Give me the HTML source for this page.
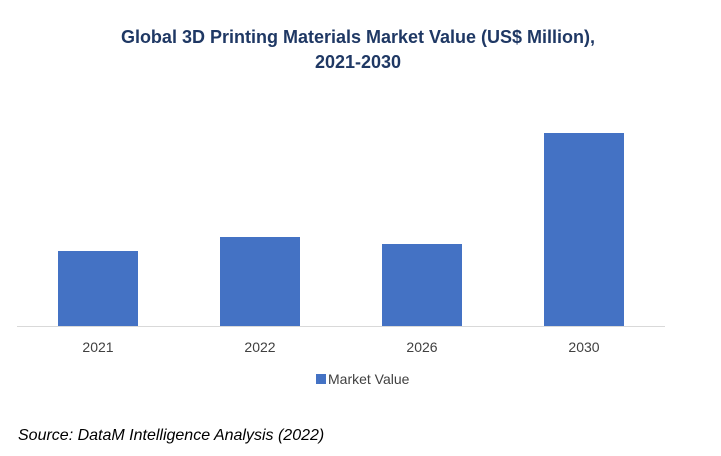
<!DOCTYPE html>
<html><head><meta charset="utf-8"><style>
body{margin:0;background:#fff;width:721px;height:451px;overflow:hidden;font-family:"Liberation Sans",sans-serif}
</style></head><body>
<svg id="chart" width="721" height="451" xmlns="http://www.w3.org/2000/svg">
<text x="358" y="43" text-anchor="middle" font-size="18" font-weight="bold" fill="#1f3864">Global 3D Printing Materials Market Value (US$ Million),</text>
<text x="358" y="68" text-anchor="middle" font-size="18" font-weight="bold" fill="#1f3864">2021-2030</text>
<line x1="17" y1="326.5" x2="665" y2="326.5" stroke="#d9d9d9" stroke-width="1"/>
<g id="bars"></g>
<rect x="316" y="374" width="10" height="10" fill="#4472c4"/>
<text x="328" y="384" font-size="14" fill="#404040">Market Value</text>
<text x="18" y="440" font-size="16" font-style="italic" fill="#000">Source: DataM Intelligence Analysis (2022)</text>
</svg>
<script>
const categories = ["2021","2022","2026","2030"];
const values = [75, 89, 82, 193];
const NS="http://www.w3.org/2000/svg";
const baseY=326, plotLeft=17, plotRight=665, barW=80;
const band=(plotRight-plotLeft)/categories.length;
function xScale(i){return plotLeft+band*i+band/2;}
function yScale(v){return baseY - v*1.0;}
const g=document.getElementById('bars');
categories.forEach((c,i)=>{
  const r=document.createElementNS(NS,'rect');
  
  
  r.setAttribute('x',xScale(i)-barW/2);
  r.setAttribute('y',yScale(values[i]));
  r.setAttribute('width',barW);
  r.setAttribute('height',baseY-yScale(values[i]));
  r.setAttribute('fill','#4472c4');
  g.appendChild(r);
  const t=document.createElementNS(NS,'text');
  
  
  t.setAttribute('x',xScale(i));
  t.setAttribute('y',352);
  t.setAttribute('text-anchor','middle');
  t.setAttribute('font-size','14');
  t.setAttribute('fill','#404040');
  t.textContent=c;
  g.appendChild(t);
});
</script>
</body></html>
